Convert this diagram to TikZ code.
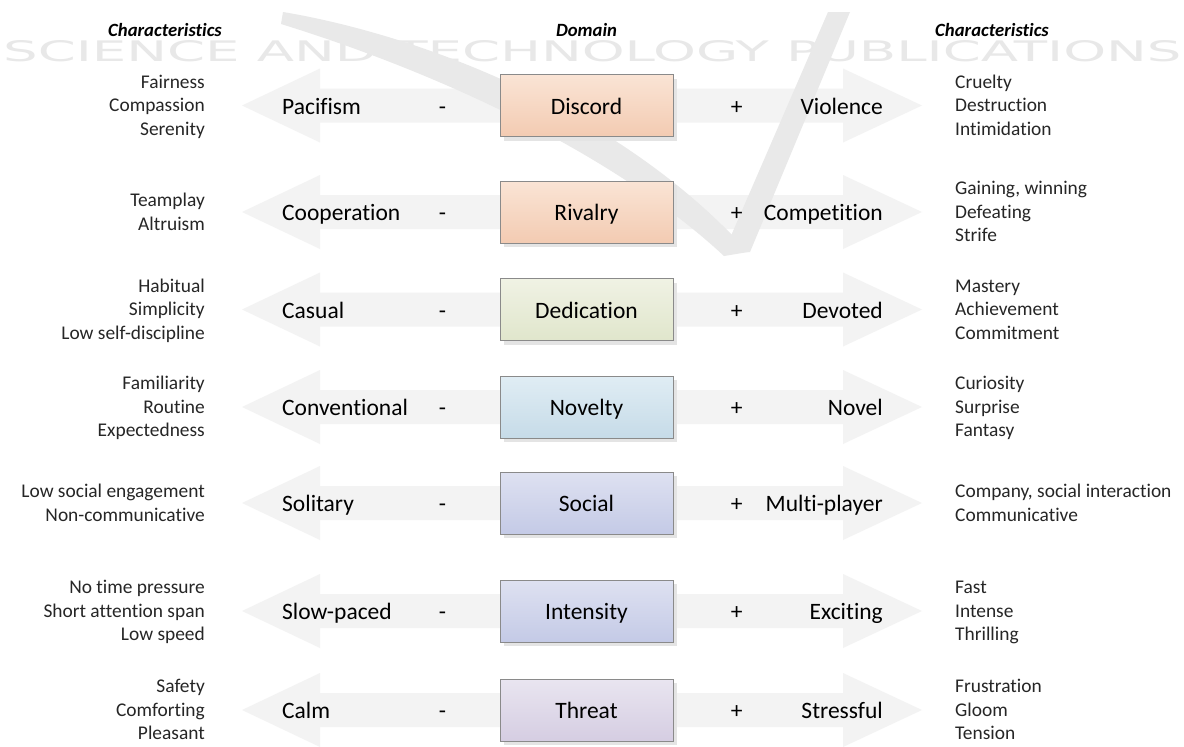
\documentclass[tikz,border=0pt]{standalone}
\usepackage{fontspec}
\usepackage{graphicx}
\setmainfont{Carlito}[Ligatures=NoCommon]
\newfontfamily\wmfont{DejaVu Sans}

\definecolor{arrowgrey}{HTML}{F3F3F3}
\definecolor{wmgrey}{HTML}{E8E8E8}
\definecolor{logogrey}{HTML}{E9E9E9}
\definecolor{boxline}{HTML}{8A8A8A}
\definecolor{shadowgrey}{HTML}{E4E4E4}
\definecolor{peachT}{HTML}{FAE4D5}
\definecolor{peachB}{HTML}{F3CBB2}
\definecolor{greenT}{HTML}{F0F2E4}
\definecolor{greenB}{HTML}{E0E6CC}
\definecolor{blueT}{HTML}{E0EDF4}
\definecolor{blueB}{HTML}{C6DBE8}
\definecolor{lavT}{HTML}{DEE1F1}
\definecolor{lavB}{HTML}{C4CAE6}
\definecolor{purT}{HTML}{E9E5F0}
\definecolor{purB}{HTML}{D5CDE2}

\tikzset{
  side/.style={font=\fontsize{19.4}{23.5}\selectfont, inner sep=0pt, text=black!85},
  pole/.style={font=\fontsize{23.5}{28}\selectfont, inner sep=0pt, anchor=base},
  head/.style={font=\fontsize{18.7}{22}\selectfont\bfseries\itshape, inner sep=0pt, anchor=base},
  domainbox/.style={draw=boxline, line width=0.9pt, minimum width=173pt, minimum height=62pt,
    inner sep=0pt, text height=17pt, text depth=0pt, font=\fontsize{23.5}{28}\selectfont},
  wmark/.style={inner sep=0pt, text=wmgrey, font=\wmfont}
}

% lines of a side column, centred on the row
\newcommand\sidelines[5]{%
  \foreach \itm [count=\k] in {#5} {\xdef\nlines{\k}}
  \foreach \itm [count=\k] in {#5} {
    \pgfmathsetmacro\yy{#3+6.3+(\k-(\nlines+1)/2)*23.5}
    \node[side, anchor=#4] (#1-\k) at (#2,\yy) {\itm};
  }%
}

% wide double-headed band behind a row
\newcommand\bandarrow[1]{%
  \fill[arrowgrey] (242,#1) -- (320,#1-37) -- (320,#1-17) -- (843,#1-17) -- (843,#1-37)
    -- (922,#1) -- (843,#1+37) -- (843,#1+17) -- (320,#1+17) -- (320,#1+37) -- cycle;
}

% one row: domain box, poles and characteristics
\newcommand\drawrow[9]{%
  \fill[shadowgrey] (504,#2-27) rectangle (677,#2+35);
  \node[domainbox, top color=#6, bottom color=#7] (d#1) at (586.5,#2) {#4};
  \node[pole, anchor=base west] (neg#1) at (282,#2+8.5) {#3};
  \node[pole] (minus#1) at (442.5,#2+8.5) {-};
  \node[pole] (plus#1) at (736.7,#2+8.5) {+};
  \node[pole, anchor=base east] (pos#1) at (883,#2+8.5) {#5};
  \sidelines{L#1}{205}{#2}{base east}{#8}
  \sidelines{R#1}{955}{#2}{base west}{#9}
}

\begin{document}
\begin{tikzpicture}[x=1pt,y=-1pt]
\useasboundingbox[fill=white] (0,0) rectangle (1184,747);

% watermark lettering
\node[wmark, anchor=north west] (wm) at (3,40) {\resizebox{1178pt}{21pt}{SCIENCE AND TECHNOLOGY PUBLICATIONS}};

% bands
\foreach \yc in {105.5,212,309.5,407,503,611,710} {\bandarrow{\yc}}

% faint logo mark: curved left stroke and straight right stroke
\fill[logogrey] (283,12) .. controls (420,35) and (620,110) .. (748,252)
  -- (724,256) .. controls (610,150) and (430,70) .. (281,24) -- cycle;
\fill[logogrey] (828,12) -- (850,12) -- (750,252) -- (724,252) -- cycle;

% column headings
\node[head] (hleft) at (165,36) {Characteristics};
\node[head] (hmid) at (586.5,36) {Domain};
\node[head] (hright) at (992,36) {Characteristics};

\drawrow{1}{105.5}{Pacifism}{Discord}{Violence}{peachT}{peachB}{Fairness,Compassion,Serenity}{Cruelty,Destruction,Intimidation}
\drawrow{2}{212}{Cooperation}{Rivalry}{Competition}{peachT}{peachB}{Teamplay,Altruism}{{Gaining, winning},Defeating,Strife}
\drawrow{3}{309.5}{Casual}{Dedication}{Devoted}{greenT}{greenB}{Habitual,Simplicity,Low self-discipline}{Mastery,Achievement,Commitment}
\drawrow{4}{407}{Conventional}{Novelty}{Novel}{blueT}{blueB}{Familiarity,Routine,Expectedness}{Curiosity,Surprise,Fantasy}
\drawrow{5}{503}{Solitary}{Social}{Multi-player}{lavT}{lavB}{Low social engagement,Non-communicative}{{Company, social interaction},Communicative}
\drawrow{6}{611}{Slow-paced}{Intensity}{Exciting}{lavT}{lavB}{No time pressure,Short attention span,Low speed}{Fast,Intense,Thrilling}
\drawrow{7}{710}{Calm}{Threat}{Stressful}{purT}{purB}{Safety,Comforting,Pleasant}{Frustration,Gloom,Tension}
\end{tikzpicture}
\end{document}
